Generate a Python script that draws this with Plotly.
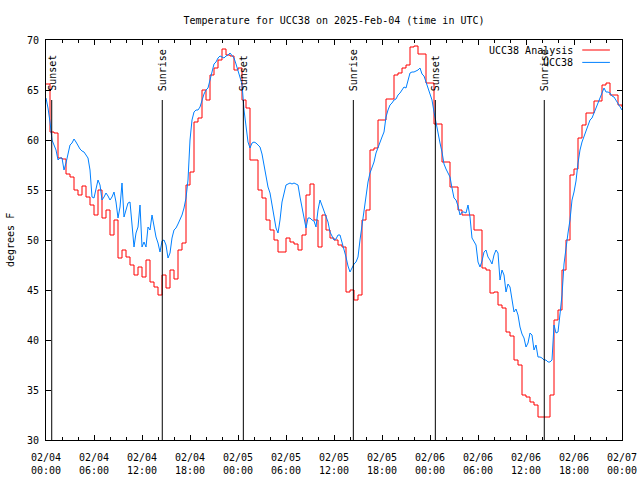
import pandas as pd
import plotly.graph_objects as go

# ---------------- data ----------------
start = pd.Timestamp("2025-02-04 00:00")
end = pd.Timestamp("2025-02-07 00:00")

# UCC38 Analysis (every 30 min, step line)
analysis_temp = [
    65.6, 60.8, 60.7, 58.2, 58.1, 56.6, 56.3, 55.0, 54.5, 55.4, 54.3, 53.5, 52.5, 55.0, 52.2,
    53.0, 50.5, 52.0, 48.2, 49.0, 48.3, 47.5, 46.5, 47.3, 46.3, 48.0, 45.8, 45.3, 44.5, 46.5,
    45.2, 47.0, 46.1, 49.0, 49.7, 55.5, 56.8, 61.8, 62.2, 65.0, 64.0, 66.5, 67.2, 68.0, 69.1,
    68.5, 68.4, 67.0, 67.2, 64.0, 63.2, 58.0, 58.0, 55.0, 54.2, 52.0, 51.0, 50.0, 48.8, 48.8,
    50.2, 49.8, 49.6, 49.0, 50.5, 54.5, 55.6, 52.0, 49.3, 52.5, 51.0, 50.2, 50.0, 49.5, 49.3,
    44.8, 45.0, 44.0, 44.5, 52.0, 53.0, 59.0, 59.2, 62.0, 62.0, 64.1, 64.1, 66.5, 66.7, 67.2,
    67.5, 69.3, 69.4, 68.6, 68.6, 65.7, 65.7, 61.6, 61.6, 57.8, 57.8, 55.3, 55.3, 53.0, 52.5,
    52.5, 52.5, 51.0, 51.0, 47.2, 47.0, 44.7, 44.8, 43.5, 43.2, 40.8, 40.4, 38.0, 37.5, 34.5,
    34.3, 33.8, 33.5, 32.3, 32.3, 32.3, 34.5, 42.0, 43.0, 47.0, 50.0, 56.5, 57.1, 60.2, 61.5,
    62.7, 62.7, 63.9, 63.9, 65.5, 65.7, 64.5, 64.5, 63.5, 63.3,
]

# UCC38 station observations (every 15 min)
station_temp = [
    64.2, 63.2, 61.8, 60.0, 59.5, 59.0, 58.0, 58.2, 58.2, 57.0, 57.7, 58.7, 59.5, 59.7, 60.1,
    59.8, 59.4, 59.1, 58.9, 58.8, 58.5, 58.2, 57.0, 54.3, 54.2, 55.2, 56.0, 55.5, 54.0, 54.3,
    54.7, 54.4, 54.0, 54.3, 54.8, 53.8, 52.2, 53.3, 55.7, 52.3, 53.0, 53.7, 53.8, 51.7, 49.3,
    50.7, 51.3, 53.5, 49.3, 49.8, 49.3, 51.3, 51.0, 52.5, 51.3, 50.3, 49.7, 48.8,
    49.9, 50.0, 49.5, 48.2, 48.7, 50.2, 51.0, 51.2, 51.6, 52.0, 52.5, 53.2, 54.2, 56.0, 60.0,
    62.0, 62.8, 63.0, 63.0, 63.3, 64.0, 64.6, 65.0, 65.2, 66.0, 66.9, 67.6, 67.8, 68.2, 68.4,
    68.3, 68.2, 68.4, 68.5, 68.7, 68.5, 68.2, 67.6, 66.9, 66.3, 65.6, 63.0, 61.6, 59.8, 59.2,
    59.7, 59.8, 59.7, 59.5, 59.3, 58.6, 57.4, 56.3, 55.3, 54.7, 53.6, 52.4, 51.2, 50.7, 52.0,
    53.8, 54.8, 55.5, 55.6, 55.7, 55.6, 55.7, 55.6, 55.5, 54.3, 53.3, 52.5, 51.2, 52.2, 52.2,
    52.0, 51.9, 51.3, 53.0, 54.0, 53.5, 52.9, 52.5, 51.8, 50.8, 50.3, 50.0, 50.1, 50.5, 50.5,
    49.8, 48.9, 48.3, 47.4, 46.8, 47.2, 47.6, 47.8, 48.3, 50.0, 51.5, 53.0, 54.3, 55.8, 56.7,
    57.2, 57.8, 58.7, 59.3, 59.9, 60.3, 60.8, 62.3, 63.0, 63.5, 63.7, 64.0, 64.1, 64.5, 64.7,
    65.0, 65.3, 65.2, 66.0, 66.7, 66.8, 66.8, 66.9, 67.0, 67.2, 66.6, 66.4, 65.8, 65.1, 64.7,
    64.0, 62.8, 61.7, 60.4, 59.7, 58.8, 57.6, 57.1, 56.7, 56.3, 55.2, 54.2, 54.0, 53.4, 52.5,
    52.8, 52.8, 52.7, 53.5, 52.3, 50.2, 49.8, 49.5, 47.8, 47.3, 47.9, 48.8, 49.0, 48.3, 48.0,
    47.6, 48.5, 49.0, 48.7, 46.0, 47.0, 46.5, 44.8, 45.6,
    45.3, 43.8, 42.8, 43.1, 42.5, 41.3, 40.6, 40.2, 39.3, 39.7, 40.7, 40.5, 39.0, 39.5, 38.3,
    38.3, 38.2, 38.0, 38.0, 37.8, 37.8, 38.0, 41.5, 40.7, 40.8, 42.6, 44.5, 47.6, 49.3, 50.7,
    52.0, 54.0, 54.8, 55.9, 57.7, 59.0, 59.8, 60.3, 61.0, 61.4, 62.0, 62.2, 62.7, 63.0, 63.5,
    64.2, 64.7, 65.2, 64.8, 64.8, 64.7, 64.4, 64.3, 64.0, 63.7, 63.3, 63.0,
]

sunset_times = ["2025-02-04 00:43", "2025-02-05 00:40", "2025-02-06 00:40"]
sunrise_times = ["2025-02-04 14:32", "2025-02-05 14:25", "2025-02-06 14:17"]

y_ticks = [30, 35, 40, 45, 50, 55, 60, 65, 70]
tick_times = list(pd.date_range(start, end, freq="6h"))
tick_labels = [t.strftime("%m/%d<br>%H:%M") for t in tick_times]

series_names = ["UCC38 Analysis", "UCC38"]
series_colors = ["#ff0000", "#0080ff"]

analysis_time = pd.date_range(start, periods=len(analysis_temp), freq="30min")
station_time = pd.date_range(start, periods=len(station_temp), freq="15min")

# ---------------- figure ----------------
FONT = "DejaVu Sans Mono"
fig = go.Figure()

fig.add_trace(go.Scatter(x=analysis_time, y=analysis_temp, mode="lines",
                         line=dict(color=series_colors[0], width=1, shape="hv"),
                         name=series_names[0], showlegend=False))
fig.add_trace(go.Scatter(x=station_time, y=station_temp, mode="lines",
                         line=dict(color=series_colors[1], width=1),
                         name=series_names[1], showlegend=False))

events = [(t, "Sunset") for t in sunset_times] + [(t, "Sunrise") for t in sunrise_times]
for t, label in events:
    fig.add_shape(type="line", xref="x", yref="paper", x0=t, x1=t, y0=0, y1=0.85,
                  line=dict(color="black", width=1))
    fig.add_annotation(x=t, y=0.87, xref="x", yref="paper", text=label, textangle=-90,
                       xanchor="center", yanchor="bottom", showarrow=False,
                       font=dict(family=FONT, size=10, color="black"), borderpad=0)

# custom legend (text then line sample, as in the reference)
legend_rows = [0.975, 0.944]
for name, color, yy in zip(series_names, series_colors, legend_rows):
    fig.add_annotation(x=0.917, y=yy, xref="paper", yref="paper", text=name,
                       xanchor="right", yanchor="middle", showarrow=False,
                       font=dict(family=FONT, size=10, color="black"), borderpad=0)
    fig.add_shape(type="line", xref="paper", yref="paper", x0=0.931, x1=0.979,
                  y0=yy, y1=yy, line=dict(color=color, width=1))

# y-axis title
fig.add_annotation(x=-0.0625, y=0.5, xref="paper", yref="paper", text="degrees F",
                   textangle=-90, xanchor="center", yanchor="middle", showarrow=False,
                   font=dict(family=FONT, size=10, color="black"))

fig.update_layout(
    width=640, height=480,
    margin=dict(l=46, r=18, t=40, b=40, autoexpand=False),
    paper_bgcolor="white", plot_bgcolor="white",
    font=dict(family=FONT, size=10, color="black"),
    title=dict(text="Temperature for UCC38 on 2025-Feb-04 (time in UTC)",
               x=0.5, xref="paper", xanchor="center",
               y=1 - 20 / 480, yref="container", yanchor="middle", automargin=False,
               font=dict(family=FONT, size=10, color="black")),
    showlegend=False,
    hovermode=False,
)

fig.update_xaxes(
    range=[start, end], showgrid=False, zeroline=False, automargin=False,
    showline=True, linecolor="black", linewidth=1, mirror="allticks",
    ticks="inside", ticklen=5, tickcolor="black",
    tickmode="array", tickvals=tick_times, ticktext=tick_labels,
    ticklabelstandoff=8,
    minor=dict(ticks="inside", ticklen=3, tickcolor="black",
               dtick=2 * 3600 * 1000, tick0=start, showgrid=False),
)
fig.update_yaxes(
    range=[30, 70], showgrid=False, zeroline=False, automargin=False,
    showline=True, linecolor="black", linewidth=1, mirror="allticks",
    ticks="inside", ticklen=5, tickcolor="black",
    tickmode="array", tickvals=y_ticks,
    ticklabelstandoff=4,
)

fig.write_html(
    "out.html",
    config={"displayModeBar": False},
    post_script="document.body.style.margin='0';document.body.style.overflow='hidden';",
)
